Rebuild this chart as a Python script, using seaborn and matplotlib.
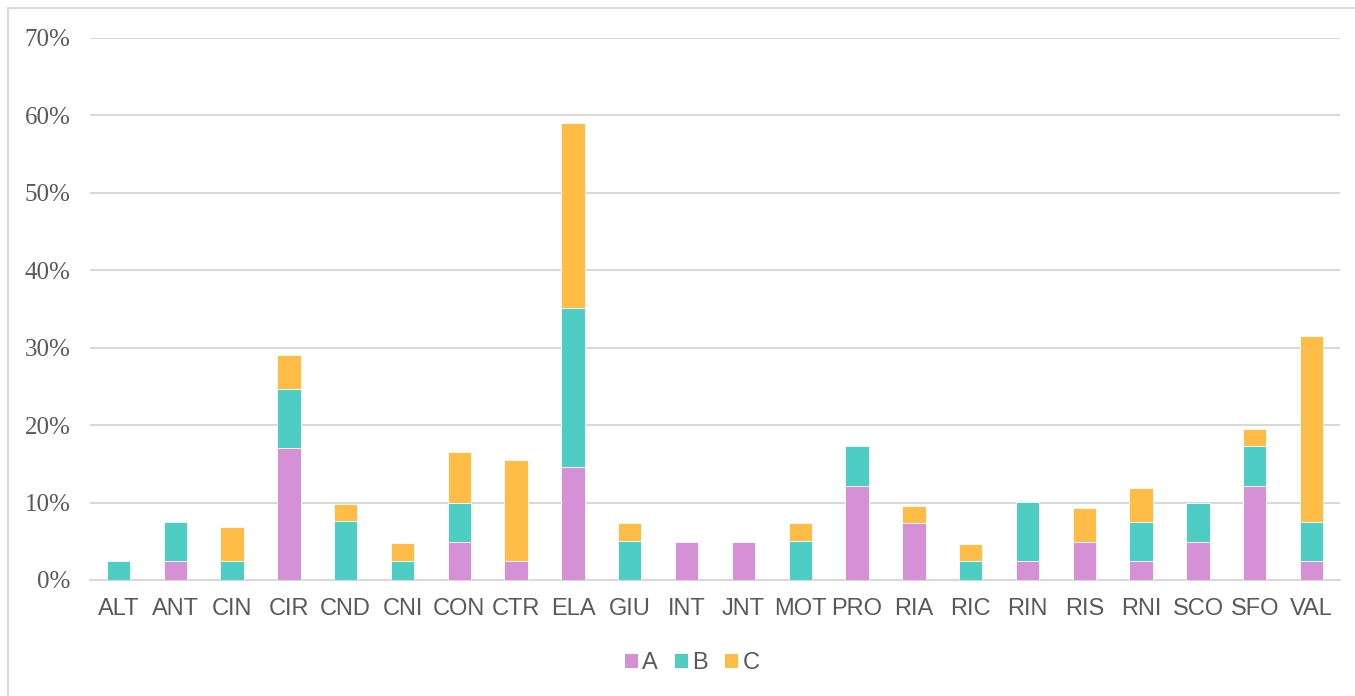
import numpy as np
import pandas as pd
import matplotlib.pyplot as plt
import seaborn as sns
from matplotlib.patches import Rectangle
from matplotlib.ticker import FuncFormatter

# ============ data (percent) ============
categories = ['ALT', 'ANT', 'CIN', 'CIR', 'CND', 'CNI', 'CON', 'CTR', 'ELA', 'GIU', 'INT',
              'JNT', 'MOT', 'PRO', 'RIA', 'RIC', 'RIN', 'RIS', 'RNI', 'SCO', 'SFO', 'VAL']
a_vals = [0, 2.4, 0, 17.1, 0, 0, 4.9, 2.4, 14.6, 0, 4.9,
          4.9, 0, 12.2, 7.3, 0, 2.4, 4.9, 2.4, 4.9, 12.2, 2.4]
b_vals = [2.5, 5.1, 2.5, 7.6, 7.6, 2.5, 5.0, 0, 20.5, 5.1, 0,
          0, 5.1, 5.1, 0, 2.5, 7.7, 0, 5.1, 5.0, 5.1, 5.1]
c_vals = [0, 0, 4.4, 4.3, 2.2, 2.3, 6.6, 13.1, 23.9, 2.2, 0,
          0, 2.2, 0, 2.2, 2.2, 0, 4.4, 4.4, 0, 2.2, 24.0]
series_names = ['A', 'B', 'C']
colors = {'A': '#D690D6', 'B': '#4ECDC4', 'C': '#FFBC47'}

df = pd.DataFrame({'cat': categories, 'A': a_vals, 'B': b_vals, 'C': c_vals})
df['AB'] = df['A'] + df['B']
df['ABC'] = df['AB'] + df['C']

sns.set_theme(style='white')
plt.rcParams['font.family'] = ['Liberation Sans', 'DejaVu Sans']

fig = plt.figure(figsize=(13.55, 6.96), dpi=100)
ax = fig.add_axes([90 / 1355, 1 - 580 / 696, 1250 / 1355, 542 / 696])

# stacked bars: draw cumulative totals from top layer down
for col, name in [('ABC', 'C'), ('AB', 'B'), ('A', 'A')]:
    sns.barplot(data=df, x='cat', y=col, color=colors[name], width=0.41,
                edgecolor='white', linewidth=0.6, saturation=1, ax=ax, zorder=3)

ax.set_ylim(0, 70)
ax.set_yticks(np.arange(0, 71, 10))
ax.yaxis.set_major_formatter(FuncFormatter(lambda v, p: f'{v:.0f}%'))
ax.grid(axis='y', color='#D9D9D9', linewidth=1.5, zorder=0)
ax.set_axisbelow(True)
for s in ['left', 'right', 'top']:
    ax.spines[s].set_visible(False)
ax.spines['bottom'].set_color('#D9D9D9')
ax.spines['bottom'].set_linewidth(1.5)
ax.set_xlabel('')
ax.set_ylabel('')
ax.set_xlim(-0.5, len(categories) - 0.5)
ax.tick_params(axis='x', length=0, pad=13, labelsize=17, labelcolor='#595959')
ax.tick_params(axis='y', length=0, pad=14, labelsize=18, labelcolor='#595959')
for t in ax.get_yticklabels():
    t.set_fontfamily('Liberation Serif')

handles = [Rectangle((0, 0), 1, 1, facecolor=colors[n], edgecolor='none') for n in series_names]
fig.legend(handles, series_names, loc='center', bbox_to_anchor=(692 / 1355, 1 - 663 / 696),
           ncol=3, frameon=False, fontsize=17, handlelength=0.55, handleheight=0.55,
           handletextpad=0.2, columnspacing=0.7, labelcolor='#595959')

# light frame round the chart
fig.patches.append(Rectangle((8 / 1355, -0.01), 1.1, 1 - 8 / 696 + 0.01, transform=fig.transFigure,
                             fill=False, edgecolor='#D9D9D9', linewidth=1.5))

fig.savefig('out.png', dpi=100)
